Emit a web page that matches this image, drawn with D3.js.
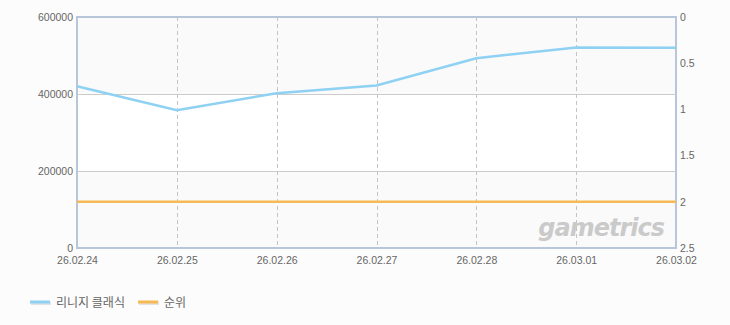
<!DOCTYPE html>
<html>
<head>
<meta charset="utf-8">
<script src="https://cdn.jsdelivr.net/npm/d3@7"></script>
<style>
  body { margin: 0; background: #fcfcfc; }
  text { font-family: "Liberation Sans", "Noto Sans CJK KR", sans-serif; }
</style>
</head>
<body>
<svg id="chart" width="730" height="325"></svg>
<script>
(function() {
    var width = 730, height = 325

    // data
    const dates = ["26.02.24", "26.02.25", "26.02.26", "26.02.27", "26.02.28", "26.03.01", "26.03.02"]
    const users = [420000, 358000, 402000, 422000, 493000, 521000, 520000]
    const rank = [2, 2, 2, 2, 2, 2, 2]
    const leftTicks = [0, 200000, 400000, 600000]
    const rightTicks = [0, 0.5, 1, 1.5, 2, 2.5]
    const seriesNames = ["리니지 클래식", "순위"]
    const colors = ["#8ed1f2", "#f7b955"]

    const m = {left: 77, right: 54, top: 17, bottom: 77}
    const iw = width - m.left - m.right, ih = height - m.top - m.bottom

    const x = d3.scalePoint().domain(dates).range([0, iw])
    const y = d3.scaleLinear().domain([0, 600000]).range([ih, 0])
    const y2 = d3.scaleLinear().domain([0, 2.5]).range([0, ih])

    const svg = d3.select("#chart")
    svg.append("rect").attr("width", width).attr("height", height).attr("fill", "#fcfcfc")

    const g = svg.append("g").attr("transform", `translate(${m.left},${m.top})`)

    // alternating bands
    g.selectAll("rect.band")
        .data(d3.pairs(leftTicks))
        .join("rect")
        .attr("x", 0).attr("width", iw)
        .attr("y", d => y(d[1])).attr("height", d => y(d[0]) - y(d[1]))
        .attr("fill", (d, i) => i % 2 ? "#ffffff" : "#fafafa")

    // horizontal grid
    g.selectAll("line.hgrid")
        .data(leftTicks.slice(1, -1))
        .join("line")
        .attr("x1", 0).attr("x2", iw)
        .attr("y1", d => y(d) + 0.5).attr("y2", d => y(d) + 0.5)
        .attr("stroke", "#cccccc")

    // vertical dashed grid
    g.selectAll("line.vgrid")
        .data(dates.slice(1, -1))
        .join("line")
        .attr("x1", d => Math.round(x(d)) + 0.5).attr("x2", d => Math.round(x(d)) + 0.5)
        .attr("y1", 0).attr("y2", ih)
        .attr("stroke", "#c4c4c4")
        .attr("stroke-dasharray", "4,3")

    // watermark
    g.append("text")
        .attr("x", iw - 12).attr("y", ih - 12)
        .attr("text-anchor", "end")
        .attr("font-size", 24).attr("font-weight", "bold").attr("font-style", "italic")
        .attr("fill", "#cacaca")
        .style("font-family", "'DejaVu Sans'")
        .attr("letter-spacing", -1)
        .text("gametrics")

    // frame
    g.append("rect")
        .attr("x", 0).attr("y", 0).attr("width", iw).attr("height", ih)
        .attr("fill", "none").attr("stroke", "#b7c7d9").attr("stroke-width", 2)

    // lines
    const line = d3.line().x((d, i) => x(dates[i])).y(d => y(d))
    g.append("path").datum(users)
        .attr("d", line)
        .attr("fill", "none").attr("stroke", colors[0]).attr("stroke-width", 2.5)

    const line2 = d3.line().x((d, i) => x(dates[i])).y(d => y2(d))
    g.append("path").datum(rank)
        .attr("d", line2)
        .attr("fill", "none").attr("stroke", colors[1]).attr("stroke-width", 2.5)

    // axes
    const labelColor = "#666666"
    const ax = g.append("g")
        .call(d3.axisLeft(y).tickValues(leftTicks).tickSize(0).tickPadding(4).tickFormat(d3.format("d")))
    const ax2 = g.append("g").attr("transform", `translate(${iw},0)`)
        .call(d3.axisRight(y2).tickValues(rightTicks).tickSize(0).tickPadding(4).tickFormat(d3.format("")))
    const ax3 = g.append("g").attr("transform", `translate(0,${ih})`)
        .call(d3.axisBottom(x).tickSize(0).tickPadding(9))
    ;[ax, ax2, ax3].forEach(a => {
        a.select(".domain").remove()
        a.selectAll("text").attr("fill", labelColor).attr("font-size", 10.5)
            .style("font-family", "'Liberation Sans'")
    })

    // legend
    const legend = svg.append("g").attr("transform", "translate(30,302)")
    const items = [{name: seriesNames[0], x: 0}, {name: seriesNames[1], x: 108}]
    items.forEach((it, i) => {
        const lg = legend.append("g").attr("transform", `translate(${it.x},0)`)
        lg.append("rect").attr("x", 1).attr("y", 0).attr("width", 20).attr("height", 3).attr("fill", "#e2e2e2")
        lg.append("rect").attr("x", 0).attr("y", -1.5).attr("width", 20).attr("height", 3).attr("fill", colors[i])
        lg.append("text").attr("x", 26).attr("y", 4.5)
            .attr("font-size", 12).attr("fill", labelColor)
            .style("font-family", "'Noto Sans CJK KR'")
            .text(it.name)
    })
})();
</script>
</body>
</html>
